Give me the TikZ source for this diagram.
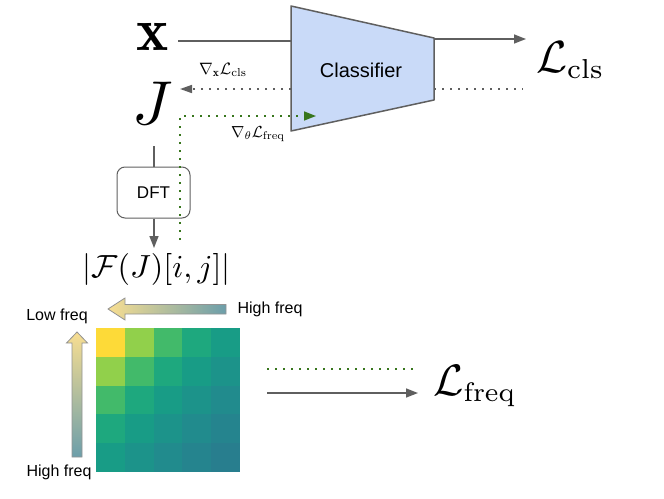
\documentclass[tikz,border=0pt]{standalone}
\usepackage{amsmath}
\usepackage{graphicx}
\usepackage{fontspec}
\newfontfamily\arialf{Liberation Sans}
\usetikzlibrary{arrows.meta}
\newcommand\smallsub[1]{\scalebox{0.87}{$\scriptstyle\mathrm{#1}$}}
\definecolor{clsfill}{RGB}{201,218,248}
\definecolor{edgegray}{RGB}{95,95,95}
\definecolor{gdark}{RGB}{56,118,29}
\definecolor{gyel}{RGB}{248,222,145}
\definecolor{gblue}{RGB}{108,158,170}
\definecolor{v0}{RGB}{253,218,56}
\definecolor{v1}{RGB}{145,208,75}
\definecolor{v2}{RGB}{66,186,106}
\definecolor{v3}{RGB}{30,168,126}
\definecolor{v4}{RGB}{24,156,134}
\definecolor{v5}{RGB}{28,147,138}
\definecolor{v6}{RGB}{33,139,141}
\definecolor{v7}{RGB}{37,132,142}
\definecolor{v8}{RGB}{40,126,142}
\begin{document}
\begin{tikzpicture}[x=1pt,y=-1pt,
  conn/.style={draw=edgegray, line width=1.5pt},
  gtip/.style={-{Triangle[length=12pt,width=9pt]}},
  dotgray/.style={draw=edgegray, line width=1.6pt, dash pattern=on 1.6pt off 6.4pt},
  dotgreen/.style={draw=gdark, line width=1.6pt, dash pattern=on 1.6pt off 6.4pt},
  sans/.style={font=\arialf\fontsize{#1}{#1}\selectfont},
  mathlbl/.style={inner sep=0pt},
  gradarrow/.style={draw=gray!85, line width=0.8pt, line join=miter}
]
\useasboundingbox (0,0) rectangle (664,498);

% classifier trapezoid
\coordinate (c1) at (291,6);
\coordinate (c2) at (434,38);
\coordinate (c3) at (434,100);
\coordinate (c4) at (291,131);
\filldraw[fill=clsfill, draw=edgegray, line width=1.5pt, line join=round] (c1) -- (c2) -- (c3) -- (c4) -- cycle;
\node[sans=20] (cls) at (361,70) {Classifier};

% inputs
\node[mathlbl, anchor=base] (xin) at (152.5,50) {\scalebox{6.1}{$\mathbf{x}$}};
\node[mathlbl, anchor=base] (J) at (153,124) {\scalebox{6.2}{$J$}};

% output
\node[mathlbl, anchor=base west] (Lcls) at (536,72) {\scalebox{4.5}{$\mathcal{L}_{\smallsub{cls}}$}};

\coordinate (xs) at (178,41);
\coordinate (xe) at (291,41);
\draw[conn] (xs) -- (xe);
\coordinate (os) at (434,39);
\coordinate (oe) at (526,39);
\draw[conn, gtip] (os) -- (oe);

% gradient of classification loss (dotted gray)
\coordinate (gs1) at (434,89);
\coordinate (ge1) at (523,89);
\draw[dotgray] (gs1) -- (ge1);
\coordinate (gs2) at (291,89);
\coordinate (ge2) at (180,89);
\draw[dotgray, -{Triangle[length=12pt,width=8pt]}] (gs2) -- (ge2);
\node[mathlbl, anchor=base west] (gx) at (199,74) {\scalebox{1.65}{$\nabla_{\mathbf{x}}\mathcal{L}_{\mathrm{cls}}$}};

% DFT branch
\node[draw=edgegray, line width=1pt, rounded corners=8pt, minimum width=73pt, minimum height=51pt, sans=17] (dft) at (153.5,192.5) {DFT};
\coordinate (js) at (154,146);
\draw[conn] (js) -- (dft.north -| js);
\coordinate (fe) at (154,248);
\draw[conn, gtip] (dft.south -| js) -- (fe);
\node[mathlbl, anchor=base] (four) at (156.5,277) {\scalebox{3.2}{$|\mathcal{F}(J)[i,j]|$}};

% green gradient path
\coordinate (fs) at (180,240);
\coordinate (fe2) at (316,116);
\draw[dotgreen, -{Triangle[length=12pt,width=9pt]}] (fs) |- (fe2);
\node[mathlbl, anchor=base west] (gt) at (231,137) {\scalebox{1.6}{$\nabla_{\theta}\mathcal{L}_{\mathrm{freq}}$}};

% frequency arrows
\shadedraw[gradarrow, left color=gyel, right color=gblue]
  (108,309) -- (125,298) -- (125,304.5) -- (226,304.5) -- (226,314) -- (125,314) -- (125,320) -- cycle;
\shadedraw[gradarrow, top color=gyel, bottom color=gblue]
  (77,332) -- (87.5,343) -- (82,343) -- (82,457) -- (72,457) -- (72,343) -- (66.5,343) -- cycle;
\node[sans=16] (hf1) at (270,309) {High freq};
\node[sans=16] (lf) at (57,316) {Low freq};
\node[sans=16] (hf2) at (59,472) {High freq};

% heatmap
\foreach \r in {0,...,4} {
  \foreach \c in {0,...,4} {
    \pgfmathtruncatemacro\dd{\r+\c}
    \fill[v\dd] ({96+28.8*\c},{328+28.8*\r}) rectangle ({96+28.8*(\c+1)+0.3},{328+28.8*(\r+1)+0.3});
  }
}

% frequency loss
\coordinate (bs1) at (267,369);
\coordinate (be1) at (417,369);
\draw[dotgreen] (bs1) -- (be1);
\coordinate (bs2) at (267,393);
\coordinate (be2) at (418,393);
\draw[conn, gtip] (bs2) -- (be2);
\node[mathlbl, anchor=base west] (Lfreq) at (433,395) {\scalebox{4.4}{$\mathcal{L}_{\smallsub{freq}}$}};
\end{tikzpicture}
\end{document}
